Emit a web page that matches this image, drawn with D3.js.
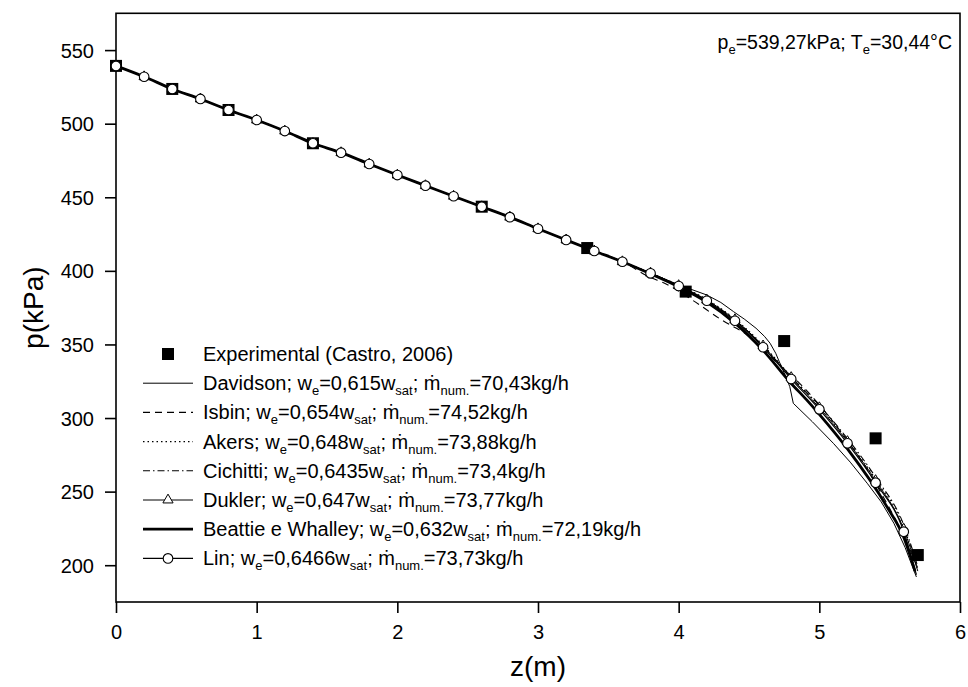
<!DOCTYPE html>
<html><head><meta charset="utf-8">
<script src="https://cdn.jsdelivr.net/npm/d3@7"></script>
<style>body{margin:0;background:#fff}text{font-family:"Liberation Sans",Arial,sans-serif;fill:#000}</style>
</head><body>
<svg id="c" width="968" height="687"></svg>
<script>
// Common part of all numerical curves (they coincide up to z=3.6 m)
const zCommon = [0,0.2,0.4,0.6,0.8,1.0,1.2,1.4,1.6,1.8,2.0,2.2,2.4,2.6,2.8,3.0,3.2,3.4,3.6];
const pCommon = [539.27,531.9,523.6,516.8,509.3,502.5,495.0,486.7,480.3,472.6,465.1,457.9,450.7,443.6,436.5,428.6,421.0,413.5,406.2];

// Experimental (Castro, 2006)
const zExp = [0,0.4,0.8,1.4,2.6,3.35,4.05,4.75,5.4,5.7];
const pExp = [539.27,523.6,509.3,486.7,443.6,415.5,385.9,352.3,286.2,206.9];

// Tails after the common part
const zDavidson = [3.8,4.0,4.2,4.3,4.39,4.47,4.55,4.61,4.65,4.69,4.72,4.76,4.79,4.815,4.95,5.1,5.22,5.34,5.44,5.53,5.61,5.69];
const pDavidson = [398.5,390.5,383.6,378.5,372.3,367.0,361.0,355.5,350.8,344.0,337.2,328.5,321.3,310.0,297.5,282.8,270.0,255.7,243.0,228.5,212.0,192.0];
const zIsbin = [3.8,3.9,4.1,4.3,4.5,4.7,4.86,5.0,5.15,5.3,5.48,5.6,5.7];
const pIsbin = [395.5,391.6,380.0,367.0,355.5,337.5,323.6,309.0,291.0,271.0,242.0,220.0,198.0];
const zAkers = [3.8,4.0,4.2,4.4,4.6,4.8,5.0,5.2,5.4,5.6,5.7];
const pAkers = [398.6,390.3,380.6,367.3,349.6,328.2,307.8,285.0,258.5,226.0,197.0];
const zCichitti = [3.8,4.0,4.2,4.4,4.6,4.8,5.0,5.2,5.4,5.6,5.7];
const pCichitti = [398.2,389.5,379.8,366.5,348.8,328.0,308.5,286.0,259.8,227.5,199.0];
const zDukler = [3.8,4.0,4.2,4.4,4.6,4.8,5.0,5.2,5.4,5.6,5.7];
const pDukler = [398.5,390.0,380.2,366.8,349.0,327.5,307.0,284.0,257.5,224.5,196.0];
const zBeattie = [3.8,4.0,4.2,4.4,4.6,4.8,4.91,5.0,5.2,5.48,5.6,5.68];
const pBeattie = [398.0,389.2,378.8,364.5,346.0,323.5,312.3,302.5,279.0,239.8,219.0,196.0];
const zLin = [3.8,4.0,4.2,4.4,4.6,4.8,5.0,5.2,5.4,5.6,5.69];
const pLin = [398.3,389.7,379.7,366.1,348.1,326.5,305.9,282.8,256.1,222.8,193.5];

const xTicks = [0,1,2,3,4,5,6];
const yTicks = [200,250,300,350,400,450,500,550];

const legendNames = ["Davidson","Isbin","Akers","Cichitti","Dukler","Beattie e Whalley","Lin"];
const legendWe = ["0,615","0,654","0,648","0,6435","0,647","0,632","0,6466"];
const legendM = ["70,43","74,52","73,88","73,4","73,77","72,19","73,73"];

const svg = d3.select("#c");
const L=116, R=960, T=13.3, B=602;
const FS = 20, SUB = 13;
const x = d3.scaleLinear().domain([0,6]).range([L,R]);
const y = d3.scaleLinear().domain([175,575]).range([B,T]);

// frame
svg.append("rect").attr("x",L).attr("y",T).attr("width",R-L).attr("height",B-T)
  .attr("fill","none").attr("stroke","#000").attr("stroke-width",1.6);

// axes
const xa = svg.append("g").attr("transform",`translate(0,${B})`);
xa.call(d3.axisBottom(x).tickValues(d3.range(0,6.01,0.5)).tickSize(6).tickFormat(""));
xa.call(d3.axisBottom(x).tickValues(xTicks).tickSize(11).tickFormat(d3.format("d")));
const ya = svg.append("g").attr("transform",`translate(${L},0)`);
ya.call(d3.axisLeft(y).tickValues(d3.range(175,576,25)).tickSize(6).tickFormat(""));
ya.call(d3.axisLeft(y).tickValues(yTicks).tickSize(11).tickFormat(d3.format("d")));
svg.selectAll(".domain").remove();
svg.selectAll(".tick line").attr("stroke","#000").attr("stroke-width",1.6);
xa.selectAll(".tick text").attr("font-size",FS).attr("font-family","Liberation Sans").attr("dy","0.71em").attr("y",23);
ya.selectAll(".tick text").attr("font-size",FS).attr("font-family","Liberation Sans").attr("x",-22).attr("dy","0.35em");

svg.append("text").attr("x",(L+R)/2).attr("y",676).attr("text-anchor","middle").attr("font-size",28).text("z(m)");
svg.append("text").attr("transform",`translate(43,${(T+B)/2}) rotate(-90)`).attr("text-anchor","middle").attr("font-size",28).text("p(kPa)");

// lines
function mk(zs,ps){ return zCommon.map((z,i)=>[z,pCommon[i]]).concat(zs.map((z,i)=>[z,ps[i]])); }
const lineM = d3.line().x(d=>x(d[0])).y(d=>y(d[1])).curve(d3.curveMonotoneX);
const lineL = d3.line().x(d=>x(d[0])).y(d=>y(d[1]));
const series = [
  {d:mk(zDavidson,pDavidson), w:1, dash:null, gen:lineL},
  {d:mk(zIsbin,pIsbin), w:1.1, dash:"7,5", gen:lineM},
  {d:mk(zAkers,pAkers), w:1.1, dash:"1.5,3", gen:lineM},
  {d:mk(zCichitti,pCichitti), w:1.1, dash:"7,3,1.5,3", gen:lineM},
  {d:mk(zDukler,pDukler), w:1, dash:null, gen:lineM},
  {d:mk(zBeattie,pBeattie), w:2.8, dash:null, gen:lineM},
  {d:mk(zLin,pLin), w:1.2, dash:null, gen:lineM}
];
series.forEach(s=>{
  svg.append("path").attr("d",s.gen(s.d)).attr("fill","none").attr("stroke","#000")
    .attr("stroke-width",s.w).attr("stroke-dasharray",s.dash).attr("stroke-linejoin","round");
});

// experimental squares
svg.selectAll("rect.exp").data(zExp).enter().append("rect").attr("class","exp")
  .attr("x",(d)=>x(d)-6).attr("y",(d,i)=>y(pExp[i])-6).attr("width",12).attr("height",12).attr("fill","#000");

// Dukler triangles (mostly hidden under Lin circles)
const tri = d3.symbol().type(d3.symbolTriangle).size(45);
const dukPts = mk(zDukler,pDukler).filter(d=>d[0]<=5.61);
svg.selectAll("path.tri").data(dukPts).enter().append("path").attr("class","tri")
  .attr("d",tri).attr("transform",d=>`translate(${x(d[0])},${y(d[1])})`)
  .attr("fill","#fff").attr("stroke","#000").attr("stroke-width",1);

// Lin circles
const linPts = mk(zLin,pLin).filter(d=>d[0]<=5.61);
svg.selectAll("circle.lin").data(linPts).enter().append("circle").attr("class","lin")
  .attr("cx",d=>x(d[0])).attr("cy",d=>y(d[1])).attr("r",4.8)
  .attr("fill","#fff").attr("stroke","#000").attr("stroke-width",1.1);

// annotation
const ann = svg.append("text").attr("x",952).attr("y",49).attr("text-anchor","end").attr("font-size",19.5);
ann.append("tspan").text("p");
ann.append("tspan").attr("font-size",SUB).attr("dy",5).text("e");
ann.append("tspan").attr("dy",-5).text("=539,27kPa; T");
ann.append("tspan").attr("font-size",SUB).attr("dy",5).text("e");
ann.append("tspan").attr("dy",-5).text("=30,44°C");

// legend
const lx0=143, lx1=193, tx=203, ly0=354, dy=29.2;
svg.append("rect").attr("x",168-6).attr("y",ly0-6).attr("width",12).attr("height",12).attr("fill","#000");
svg.append("text").attr("x",tx).attr("y",ly0+7).attr("font-size",FS).text("Experimental (Castro, 2006)");
legendNames.forEach((n,i)=>{
  const yy = ly0 + dy*(i+1);
  const s = series[i];
  svg.append("line").attr("x1",lx0).attr("x2",lx1).attr("y1",yy).attr("y2",yy)
    .attr("stroke","#000").attr("stroke-width",s.w).attr("stroke-dasharray",s.dash);
  if(n==="Dukler") svg.append("path").attr("d",tri).attr("transform",`translate(168,${yy})`)
      .attr("fill","#fff").attr("stroke","#000").attr("stroke-width",1);
  if(n==="Lin") svg.append("circle").attr("cx",168).attr("cy",yy).attr("r",4.8)
      .attr("fill","#fff").attr("stroke","#000").attr("stroke-width",1.1);
  const t = svg.append("text").attr("x",tx).attr("y",yy+7).attr("font-size",FS);
  t.append("tspan").text(n+"; w");
  t.append("tspan").attr("font-size",SUB).attr("dy",5).text("e");
  t.append("tspan").attr("dy",-5).text("="+legendWe[i]+"w");
  t.append("tspan").attr("font-size",SUB).attr("dy",5).text("sat");
  t.append("tspan").attr("dy",-5).text("; \u1E41");
  t.append("tspan").attr("font-size",SUB).attr("dy",5).text("num.");
  t.append("tspan").attr("dy",-5).text("="+legendM[i]+"kg/h");
});
</script>
</body></html>
